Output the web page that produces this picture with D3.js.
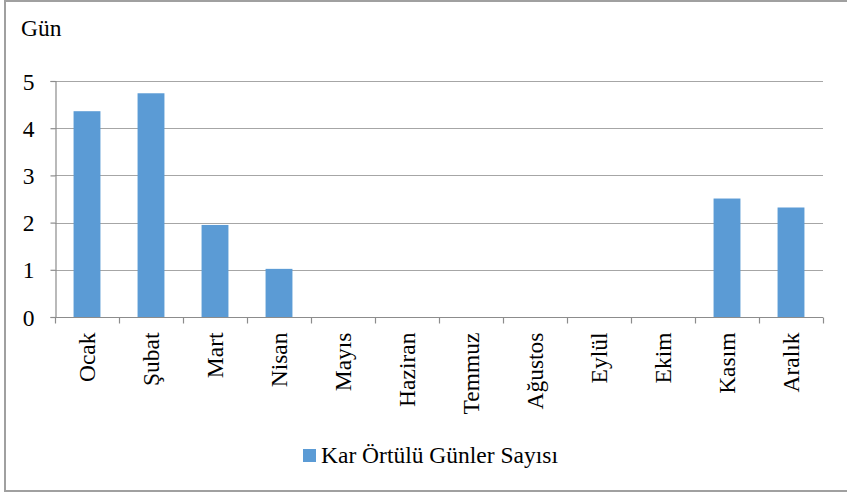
<!DOCTYPE html>
<html>
<head>
<meta charset="utf-8">
<script src="https://cdn.jsdelivr.net/npm/d3@7"></script>
<style>
  body { margin: 0; background: #fff; }
</style>
</head>
<body>
<div id="chart"></div>
<script>
// months and values
var months = ["Ocak", "Şubat", "Mart", "Nisan", "Mayıs", "Haziran", "Temmuz", "Ağustos", "Eylül", "Ekim", "Kasım", "Aralık"];
var snowDays = [4.36, 4.74, 1.95, 1.02, 0, 0, 0, 0, 0, 0, 2.51, 2.32];
var yTicks = [0, 1, 2, 3, 4, 5];
var seriesName = "Kar Örtülü Günler Sayısı";
var yTitle = "Gün";

var width = 847, height = 494;
var plot = {left: 55, right: 823, top: 81, bottom: 317};
var barColor = "#5b9bd5";
var fontSize = 23.5;
var serif = "'Liberation Serif', 'Times New Roman', serif";

var svg = d3.select("#chart").append("svg")
    .attr("width", width)
    .attr("height", height)
    .style("font-family", serif);

// outer frame
svg.append("rect")
    .attr("x", 5).attr("y", 1)
    .attr("width", width - 4).attr("height", 490)
    .attr("fill", "#fff")
    .attr("stroke", "#a0a0a0")
    .attr("stroke-width", 2);

var x = d3.scaleBand()
    .domain(months)
    .range([plot.left, plot.right])
    .paddingInner(0.58)
    .paddingOuter(0.29);

var band = d3.scaleBand().domain(months).range([plot.left, plot.right]);

var y = d3.scaleLinear()
    .domain([0, 5])
    .range([plot.bottom, plot.top]);

// gridlines
svg.append("g")
    .selectAll("line")
    .data(yTicks.filter(function(d) { return d > 0; }))
    .enter().append("line")
    .attr("x1", plot.left).attr("x2", plot.right)
    .attr("y1", function(d) { return Math.round(y(d)) + 0.5; })
    .attr("y2", function(d) { return Math.round(y(d)) + 0.5; })
    .attr("stroke", "#a6a6a6")
    .attr("stroke-width", 1.2);

// bars
svg.append("g")
    .selectAll("rect")
    .data(snowDays)
    .enter().append("rect")
    .attr("x", function(d, i) { return x(months[i]); })
    .attr("width", x.bandwidth())
    .attr("y", function(d) { return y(d); })
    .attr("height", function(d) { return plot.bottom - y(d); })
    .attr("fill", barColor);

// y axis
var yAxis = svg.append("g")
    .attr("transform", "translate(" + (plot.left + 0.5) + ",0)")
    .call(d3.axisLeft(y).tickValues(yTicks).tickSize(5).tickPadding(16).tickFormat(d3.format("d")));
yAxis.attr("font-family", null);
yAxis.select(".domain").attr("stroke", "#8c8c8c").attr("stroke-width", 1.2);
yAxis.selectAll(".tick line").attr("stroke", "#8c8c8c").attr("stroke-width", 1.2);
yAxis.selectAll(".tick text")
    .style("font-family", serif)
    .attr("fill", "#000")
    .attr("font-size", fontSize)
    .attr("dy", "0.34em");

// x axis: ticks at category boundaries
var xAxis = svg.append("g")
    .attr("transform", "translate(0," + (plot.bottom + 0.5) + ")");
xAxis.append("line")
    .attr("x1", plot.left).attr("x2", plot.right)
    .attr("stroke", "#8c8c8c").attr("stroke-width", 1.2);
var bounds = months.map(function(m) { return band(m); }).concat([plot.right]);
xAxis.selectAll("line.tk")
    .data(bounds)
    .enter().append("line")
    .attr("class", "tk")
    .attr("x1", function(d) { return Math.round(d) + 0.5; })
    .attr("x2", function(d) { return Math.round(d) + 0.5; })
    .attr("y1", 0).attr("y2", 6)
    .attr("stroke", "#8c8c8c").attr("stroke-width", 1.2);

xAxis.selectAll("text")
    .data(months)
    .enter().append("text")
    .attr("transform", function(d) {
        return "translate(" + (band(d) + band.bandwidth() / 2 + 8) + ",15) rotate(-90)";
    })
    .attr("text-anchor", "end")
    .style("font-family", serif)
    .attr("font-size", fontSize)
    .text(function(d) { return d; });

// axis title
svg.append("text")
    .attr("x", 21).attr("y", 36)
    .style("font-family", serif)
    .attr("font-size", fontSize)
    .text(yTitle);

// legend
var legend = svg.append("g").attr("transform", "translate(303,449)");
legend.append("rect")
    .attr("width", 13).attr("height", 13)
    .attr("fill", barColor);
legend.append("text")
    .attr("x", 18).attr("y", 14)
    .style("font-family", serif)
    .attr("font-size", fontSize)
    .text(seriesName);
</script>
</body>
</html>
